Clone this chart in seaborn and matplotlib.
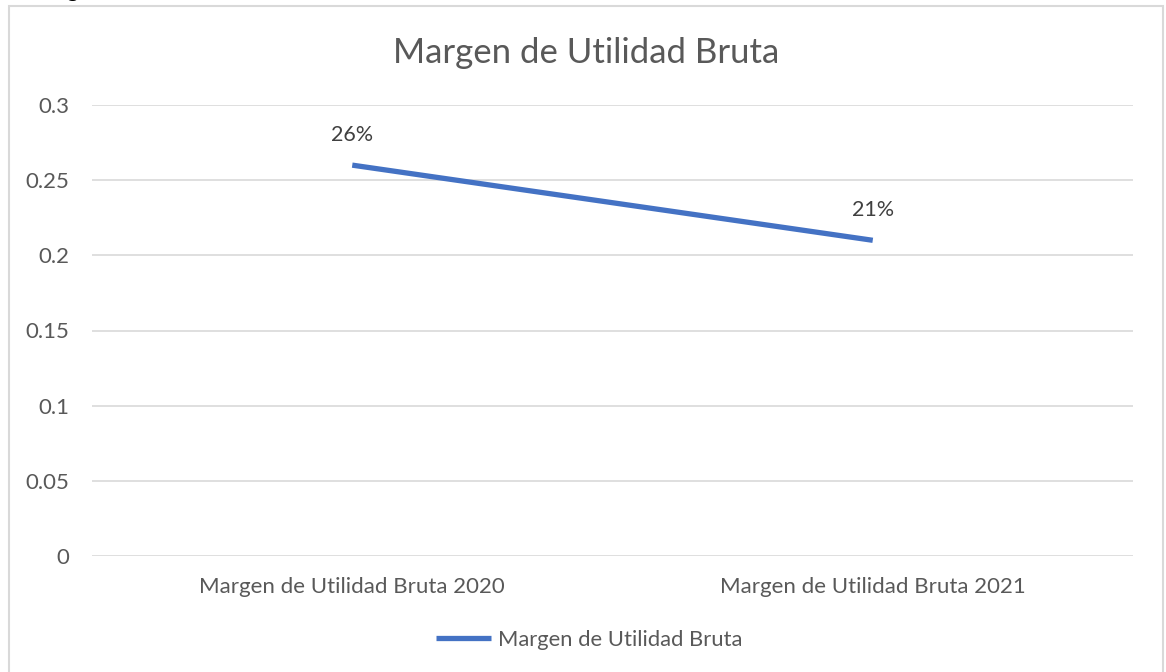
import pandas as pd
import matplotlib.pyplot as plt
import seaborn as sns
from matplotlib.patches import Rectangle

categorias = ['Margen de Utilidad Bruta 2020', 'Margen de Utilidad Bruta 2021']
valores = [0.26, 0.21]
etiquetas = ['26%', '21%']
serie = 'Margen de Utilidad Bruta'
titulo = 'Margen de Utilidad Bruta'
yticks = [0, 0.05, 0.1, 0.15, 0.2, 0.25, 0.3]
ytick_labels = ['0', '0.05', '0.1', '0.15', '0.2', '0.25', '0.3']

sns.set_style('white')
plt.rcParams['font.family'] = ['Lato', 'DejaVu Sans']

df = pd.DataFrame({'categoria': categorias, 'valor': valores, 'serie': serie})

fig = plt.figure(figsize=(11.66, 6.72), dpi=100)
ax = fig.add_axes([92/1166, 116/672, 1041/1166, 451/672])

sns.lineplot(data=df, x='categoria', y='valor', hue='serie', palette=['#4472C4'],
             linewidth=3.8, ax=ax, solid_capstyle='butt')

ax.set_xlim(-0.5, 1.5)
ax.set_ylim(0, 0.3)
ax.set_yticks(yticks)
ax.set_yticklabels(ytick_labels)
ax.grid(axis='y', color='#D9D9D9', linewidth=1.2)
ax.set_axisbelow(True)
for s in ax.spines.values():
    s.set_visible(False)
ax.tick_params(axis='both', length=0, labelsize=16, colors='#595959')
ax.tick_params(axis='y', pad=16.5)
ax.tick_params(axis='x', pad=15)
ax.set_xlabel('')
ax.set_ylabel('')

for i, (v, t) in enumerate(zip(valores, etiquetas)):
    ax.annotate(t, (i, v), xytext=(0, 22), textcoords='offset points',
                ha='center', va='center', fontsize=15.5, color='#404040')

fig.text(586/1166, 1 - 53/672, titulo, ha='center', va='center', fontsize=25, color='#595959')

sns.move_legend(ax, 'center', bbox_to_anchor=(589/1166, 32/672), bbox_transform=fig.transFigure,
                frameon=False, title=None, fontsize=15.8, handlelength=2.5, handletextpad=0.3)
for txt in ax.get_legend().get_texts():
    txt.set_color('#595959')

# borde exterior del gráfico
fig.patches.append(Rectangle((9/1166, -0.05), 1154/1166, 1.05 - 6/672, transform=fig.transFigure,
                             fill=False, edgecolor='#D9D9D9', linewidth=1.5))
fig.text(72/1166, 1 + 3/672, 'g', ha='center', va='baseline', fontsize=16, color='black')

fig.savefig('out.png', dpi=100)
